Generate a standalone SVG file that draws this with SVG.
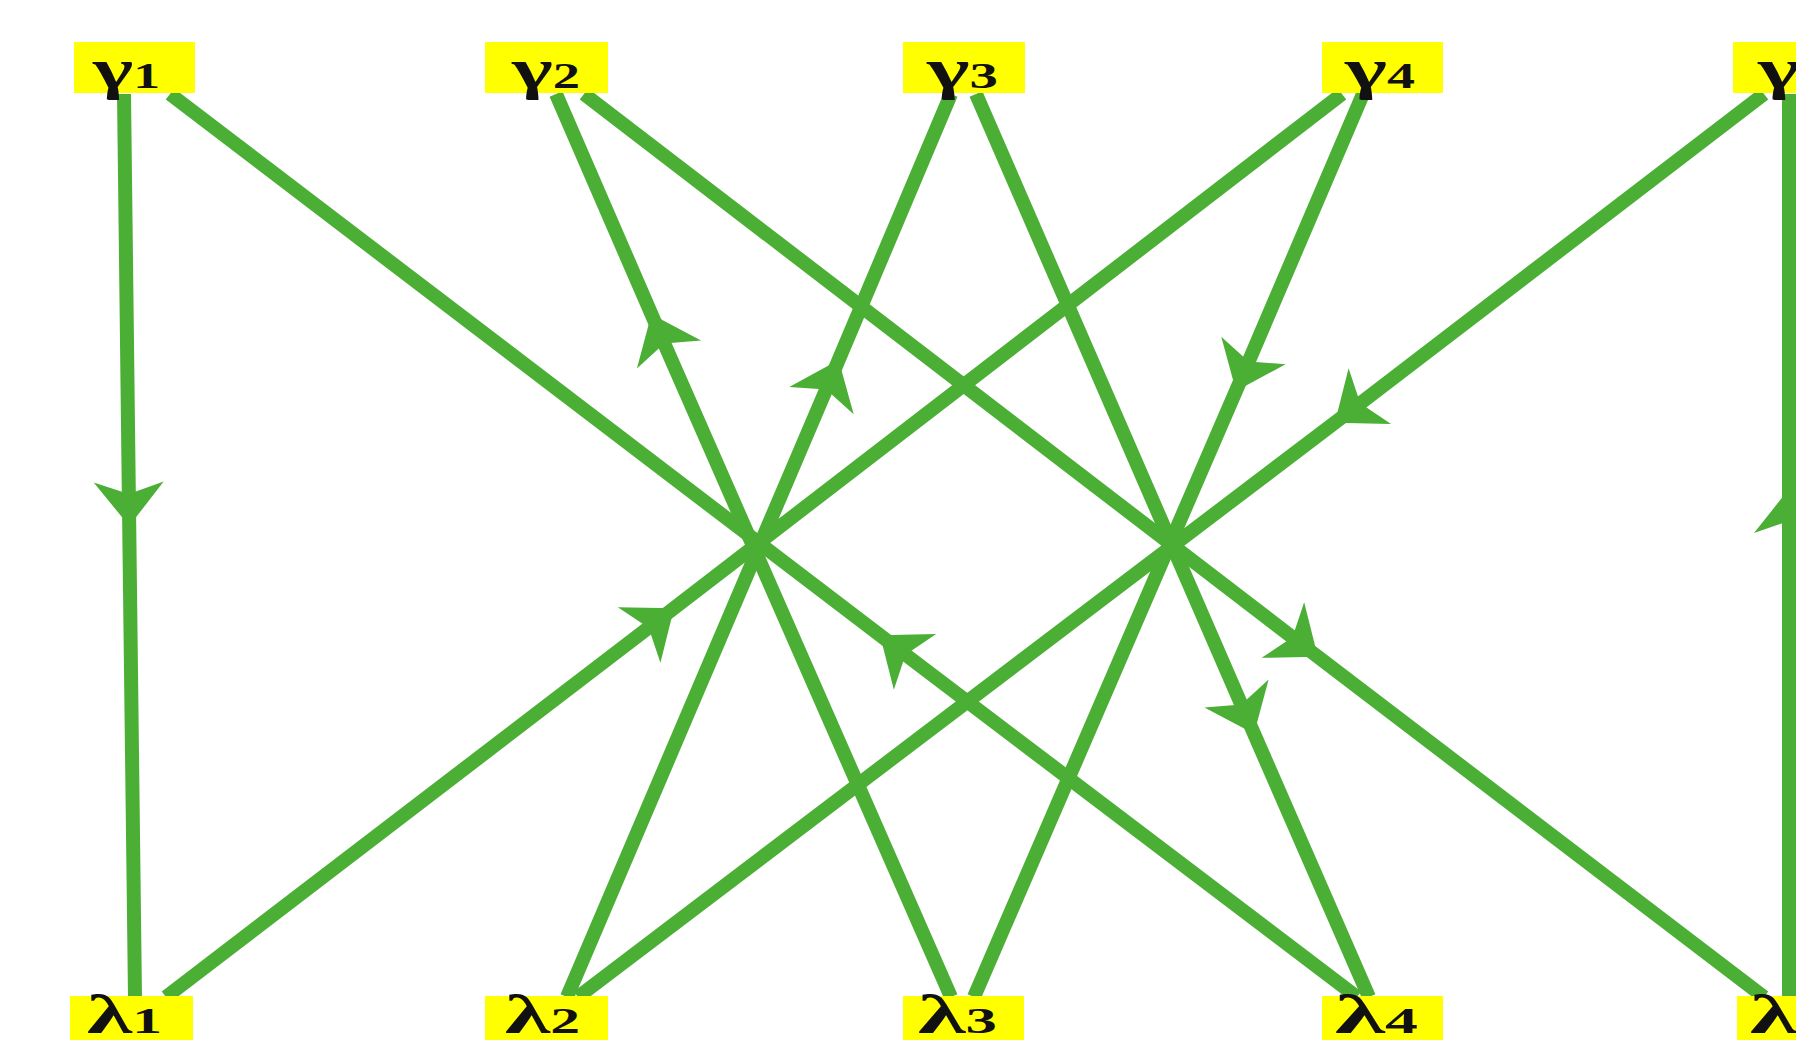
<svg xmlns="http://www.w3.org/2000/svg" width="1796" height="1040" viewBox="0 0 1796 1040">
<style>
.edge{fill:none;stroke:#4CAF35;stroke-width:14;stroke-linecap:butt;marker-mid:url(#arr)}
.box{fill:#FFFF00}
.g{font-family:"Liberation Serif","DejaVu Serif",serif;font-weight:bold;fill:#111}
.gam{font-size:56px}
.lam{font-size:54px}
.sub{font-size:35px}
</style>
<defs>
<marker id="arr" markerUnits="userSpaceOnUse" viewBox="-30 -40 60 80" markerWidth="60" markerHeight="80" refX="0" refY="0" orient="auto">
<path d="M26,0 L-18,-35 L-6,0 L-18,35 Z" fill="#4CAF35"/>
</marker>
</defs>
<rect width="1796" height="1040" fill="#ffffff"/>
<g id="connectors">
<path class="edge" d="M124,94 L128.9,500 L135,997"/>
<path class="edge" d="M951,997 L661.8,338 L556,94"/>
<path class="edge" d="M567,997 L828.5,384 L951,94"/>
<path class="edge" d="M166,997 L653.4,624 L1342,94"/>
<path class="edge" d="M1357,997 L900.7,651 L170,94"/>
<path class="edge" d="M1363,94 L1246.3,367 L974,997"/>
<path class="edge" d="M1764,94 L1355.5,407 L578,997"/>
<path class="edge" d="M584,94 L1297.2,641 L1764,997"/>
<path class="edge" d="M976,94 L1243.7,710 L1369,997"/>
<path class="edge" d="M1789,997 L1789,515 L1789,94"/>
</g>
<g id="gamma1"><rect class="box" x="74" y="42" width="121" height="51"/><text class="g" x="93" y="88" textLength="67" lengthAdjust="spacingAndGlyphs"><tspan class="gam">γ</tspan><tspan class="sub">1</tspan></text></g>
<g id="gamma2"><rect class="box" x="485" y="42" width="123" height="51"/><text class="g" x="512" y="88" textLength="68" lengthAdjust="spacingAndGlyphs"><tspan class="gam">γ</tspan><tspan class="sub">2</tspan></text></g>
<g id="gamma3"><rect class="box" x="903" y="42" width="122" height="51"/><text class="g" x="927" y="88" textLength="71" lengthAdjust="spacingAndGlyphs"><tspan class="gam">γ</tspan><tspan class="sub">3</tspan></text></g>
<g id="gamma4"><rect class="box" x="1322" y="42" width="121" height="51"/><text class="g" x="1345" y="88" textLength="70" lengthAdjust="spacingAndGlyphs"><tspan class="gam">γ</tspan><tspan class="sub">4</tspan></text></g>
<g id="gamma5"><rect class="box" x="1733" y="42" width="121" height="51"/><text class="g" x="1758" y="88" textLength="70" lengthAdjust="spacingAndGlyphs"><tspan class="gam">γ</tspan><tspan class="sub">5</tspan></text></g>
<g id="lambda1"><rect class="box" x="70" y="996" width="123" height="51"/><text class="g" x="87" y="1033" textLength="75" lengthAdjust="spacingAndGlyphs"><tspan class="lam">λ</tspan><tspan class="sub">1</tspan></text></g>
<g id="lambda2"><rect class="box" x="485" y="996" width="123" height="51"/><text class="g" x="505" y="1033" textLength="75" lengthAdjust="spacingAndGlyphs"><tspan class="lam">λ</tspan><tspan class="sub">2</tspan></text></g>
<g id="lambda3"><rect class="box" x="903" y="996" width="121" height="51"/><text class="g" x="918" y="1033" textLength="79" lengthAdjust="spacingAndGlyphs"><tspan class="lam">λ</tspan><tspan class="sub">3</tspan></text></g>
<g id="lambda4"><rect class="box" x="1322" y="996" width="121" height="51"/><text class="g" x="1335" y="1033" textLength="83" lengthAdjust="spacingAndGlyphs"><tspan class="lam">λ</tspan><tspan class="sub">4</tspan></text></g>
<g id="lambda5"><rect class="box" x="1737" y="996" width="121" height="51"/><text class="g" x="1750" y="1033" textLength="78" lengthAdjust="spacingAndGlyphs"><tspan class="lam">λ</tspan><tspan class="sub">5</tspan></text></g>
</svg>
